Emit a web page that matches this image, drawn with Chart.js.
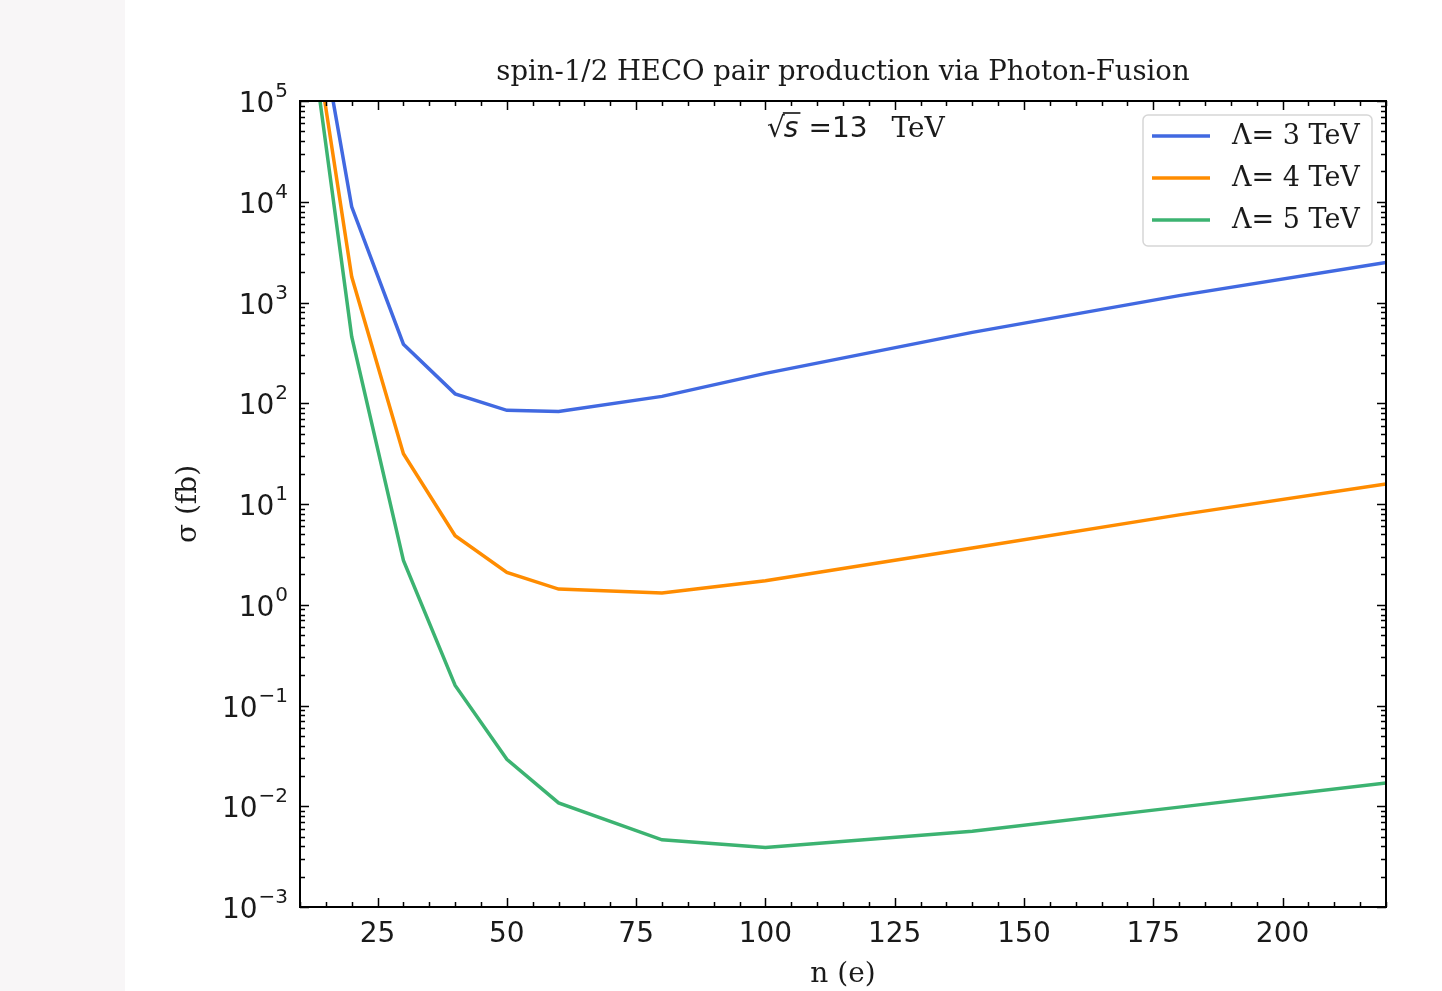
<!DOCTYPE html>
<html>
<head>
<meta charset="utf-8">
<title>spin-1/2 HECO pair production via Photon-Fusion</title>
<script src="https://cdn.jsdelivr.net/npm/chart.js@4.4.1/dist/chart.umd.min.js"></script>
<style>
  html, body { margin: 0; padding: 0; background: #fff; overflow: hidden; }
  .side { position: absolute; left: 0; top: 0; width: 125px; height: 991px; background: #f8f6f7; }
  #wrap { position: absolute; left: 0; top: 0; width: 1442px; height: 991px; }
</style>
</head>
<body>
<div class="side"></div>
<div id="wrap"><canvas id="xsecChart" width="1442" height="991"></canvas></div>
<script>
// magnetic charge n (in units of e) and cross sections in fb
const nCharge = [10, 20, 30, 40, 50, 60, 80, 100, 140, 180, 220];
const sigmaL3 = [7.4e6, 8900, 386, 124, 85, 83, 117, 198, 505, 1170, 2490];
const sigmaL4 = [4.0e6, 1800, 31.5, 4.85, 2.09, 1.43, 1.31, 1.73, 3.66, 7.8, 15.8];
const sigmaL5 = [3.0e6, 457, 2.75, 0.158, 0.0293, 0.0108, 0.00464, 0.0039, 0.00565, 0.0098, 0.017];
const seriesLabels = ['Λ= 3 TeV', 'Λ= 4 TeV', 'Λ= 5 TeV'];
const seriesColors = ['#4169e1', '#ff8c00', '#3cb371'];

const xTicks = [25, 50, 75, 100, 125, 150, 175, 200];
const yExponents = [-3, -2, -1, 0, 1, 2, 3, 4, 5];

const SANS = '"DejaVu Sans", sans-serif';
const SERIF = '"DejaVu Serif", serif';

function points(vals) {
  return nCharge.map((n, i) => ({ x: n, y: vals[i] }));
}

// matplotlib-like frame: inward ticks on all four sides, labels, title, legend
const mplFrame = {
  id: 'mplFrame',
  afterDatasetsDraw(chart) {
    const { ctx, chartArea: a, scales: { x, y } } = chart;
    ctx.save();
    ctx.strokeStyle = '#000';
    ctx.lineWidth = 1.5;
    ctx.beginPath();
    // x ticks
    for (let v = 10; v <= 220; v += 5) {
      const px = Math.round(x.getPixelForValue(v)) + 0.5;
      const len = xTicks.includes(v) ? 9 : 5;
      ctx.moveTo(px, a.bottom); ctx.lineTo(px, a.bottom - len);
      ctx.moveTo(px, a.top); ctx.lineTo(px, a.top + len);
    }
    // y ticks, decades and minors
    yExponents.forEach(e => {
      for (let m = 1; m <= 9; m++) {
        const v = m * Math.pow(10, e);
        if (v > y.max * 1.0001) continue;
        const py = Math.round(y.getPixelForValue(v)) + 0.5;
        const len = m === 1 ? 9 : 5;
        ctx.moveTo(a.left, py); ctx.lineTo(a.left + len, py);
        ctx.moveTo(a.right, py); ctx.lineTo(a.right - len, py);
      }
    });
    ctx.stroke();
    ctx.lineWidth = 2;
    ctx.strokeRect(a.left, a.top, a.width, a.height);

    ctx.fillStyle = '#1a1a1a';
    // x tick labels
    ctx.font = '28px ' + SANS;
    ctx.textAlign = 'center';
    ctx.textBaseline = 'alphabetic';
    xTicks.forEach(v => ctx.fillText(String(v), x.getPixelForValue(v), a.bottom + 35));

    // y tick labels 10^e
    ctx.textAlign = 'right';
    yExponents.forEach(e => {
      const py = y.getPixelForValue(Math.pow(10, e));
      const exp = String(e).replace('-', '\u2212');
      ctx.font = '20px ' + SANS;
      const expW = ctx.measureText(exp).width;
      ctx.fillText(exp, a.left - 12, py - 4);
      ctx.font = '28px ' + SANS;
      ctx.fillText('10', a.left - 13 - expW, py + 11);
    });

    // title and axis labels
    ctx.textAlign = 'center';
    ctx.font = '27.5px ' + SERIF;
    ctx.fillText('spin-1/2 HECO pair production via Photon-Fusion', (a.left + a.right) / 2, 80);
    ctx.font = '28px ' + SERIF;
    ctx.fillText('n (e)', (a.left + a.right) / 2, 982);
    ctx.save();
    ctx.translate(196, (a.top + a.bottom) / 2);
    ctx.rotate(-Math.PI / 2);
    ctx.fillText('σ (fb)', 0, 0);
    ctx.restore();

    // sqrt(s) = 13 TeV
    let tx = 767;
    const by = 137;
    ctx.textAlign = 'left';
    ctx.font = '28px ' + SANS;
    ctx.fillText('√', tx, by);
    tx += ctx.measureText('√').width - 1;
    ctx.font = 'italic 28px ' + SANS;
    const sW = ctx.measureText('s').width;
    ctx.fillText('s', tx, by);
    ctx.lineWidth = 1.5;
    ctx.beginPath();
    ctx.moveTo(tx - 1, by - 24); ctx.lineTo(tx + sW + 2, by - 24);
    ctx.stroke();
    tx += sW + 10;
    ctx.font = '28px ' + SANS;
    ctx.fillText('=13', tx, by);
    tx += ctx.measureText('=13').width + 24;
    ctx.font = '28px ' + SERIF;
    ctx.fillText('TeV', tx, by);

    // legend box in the upper right
    const lx = a.right - 243, ly = a.top + 14, lw = 229, lh = 131;
    ctx.beginPath();
    ctx.roundRect(lx, ly, lw, lh, 5);
    ctx.fillStyle = 'rgba(255,255,255,0.85)';
    ctx.fill();
    ctx.strokeStyle = '#d6d6d6';
    ctx.lineWidth = 1.5;
    ctx.stroke();
    ctx.font = '27px ' + SERIF;
    ctx.textBaseline = 'middle';
    chart.data.datasets.forEach((ds, i) => {
      const ry = ly + 21 + i * 42;
      ctx.strokeStyle = ds.borderColor;
      ctx.lineWidth = 3.5;
      ctx.beginPath();
      ctx.moveTo(lx + 9, ry); ctx.lineTo(lx + 67, ry);
      ctx.stroke();
      ctx.fillStyle = '#1a1a1a';
      ctx.fillText(ds.label, lx + 89, ry + 1);
    });
    ctx.restore();
  }
};

const ctx = document.getElementById('xsecChart').getContext('2d');
new Chart(ctx, {
  type: 'line',
  data: {
    datasets: [
      { label: seriesLabels[0], data: points(sigmaL3), borderColor: seriesColors[0] },
      { label: seriesLabels[1], data: points(sigmaL4), borderColor: seriesColors[1] },
      { label: seriesLabels[2], data: points(sigmaL5), borderColor: seriesColors[2] }
    ]
  },
  options: {
    responsive: false,
    animation: false,
    devicePixelRatio: 1,
    layout: { padding: { left: 300, right: 56, top: 101, bottom: 84 } },
    elements: {
      line: { borderWidth: 3.5, tension: 0, fill: false },
      point: { radius: 0 }
    },
    scales: {
      x: { type: 'linear', min: 10, max: 220, display: false },
      y: { type: 'logarithmic', min: 1e-3, max: 1e5, display: false }
    },
    plugins: {
      legend: { display: false },
      title: { display: false },
      tooltip: { enabled: false }
    }
  },
  plugins: [mplFrame]
});
</script>
</body>
</html>
